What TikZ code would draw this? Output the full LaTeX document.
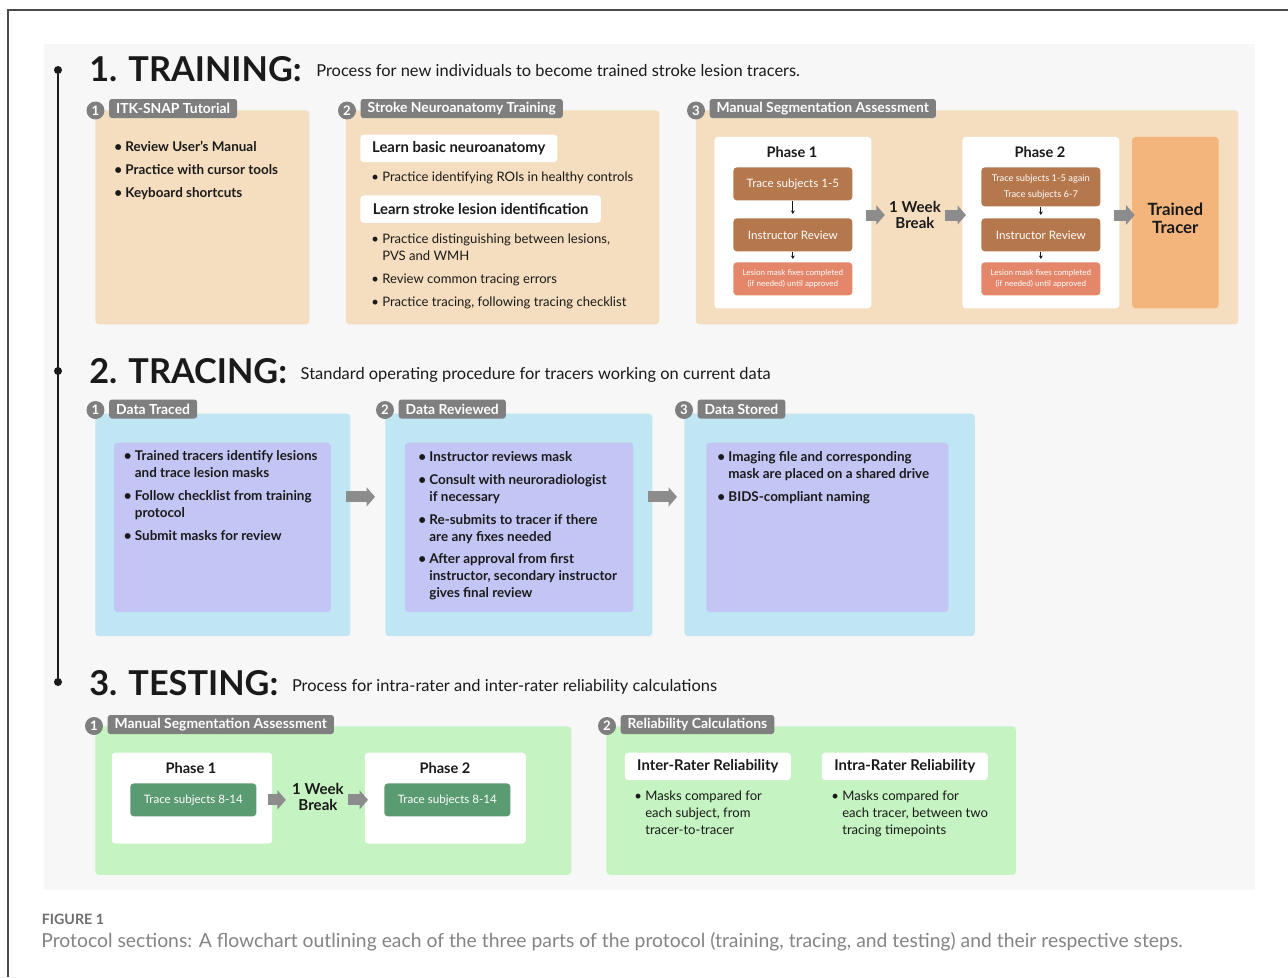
\documentclass[tikz,border=0pt]{standalone}
\usepackage{fontspec}
\setmainfont{Lato}
\usetikzlibrary{arrows.meta,positioning}
\definecolor{panel}{HTML}{F7F7F7}
\definecolor{ink}{HTML}{1A1A1A}
\definecolor{framegray}{HTML}{4A4A4A}
\definecolor{tabgray}{HTML}{7F7F7F}
\definecolor{arrowgray}{HTML}{8C8C8C}
\definecolor{tan}{HTML}{F5DEBF}
\definecolor{tracer}{HTML}{F4B57C}
\definecolor{brown}{HTML}{B5774C}
\definecolor{salmon}{HTML}{E3866A}
\definecolor{skyblue}{HTML}{C0E6F4}
\definecolor{lilac}{HTML}{C3C6F4}
\definecolor{mint}{HTML}{C5F3C1}
\definecolor{pine}{HTML}{5B9B71}
\definecolor{capgray}{HTML}{6E6E6E}
\begin{document}
\begin{tikzpicture}
[
x=0.02cm, y=-0.02cm,
headtext/.style={anchor=base west, inner sep=0, text=ink, font=\fontsize{19.5}{22}\selectfont\bfseries},
subtext/.style={anchor=base west, inner sep=0, text=ink, font=\fontsize{9.35}{11}\selectfont},
numdot/.style={circle, fill=tabgray, text=white, inner sep=0, minimum size=0.36cm, font=\fontsize{7.5}{8}\selectfont\bfseries},
tabbox/.style={fill=tabgray, text=white, anchor=west, rounded corners=1.5pt, inner xsep=0.14cm, inner ysep=0, minimum height=0.38cm, font=\fontsize{7.9}{8}\selectfont\bfseries},
panelbox/.style={anchor=north west, inner sep=0, rounded corners=2pt},
tanbox/.style={panelbox, fill=tan},
phasebox/.style={panelbox, fill=white},
brownbox/.style={panelbox, fill=brown, text=white, align=center, font=\fontsize{6.6}{8}\selectfont, minimum width=2.38cm, minimum height=0.66cm},
fixbox/.style={panelbox, fill=salmon, text=white, align=center, font=\fontsize{4.6}{6.5}\selectfont, minimum width=2.38cm, minimum height=0.66cm},
bluebox/.style={panelbox, fill=skyblue},
lilacbox/.style={panelbox, fill=lilac},
mintbox/.style={panelbox, fill=mint},
pinebox/.style={panelbox, fill=pine, text=white, font=\fontsize{6.6}{8}\selectfont, minimum width=2.52cm, minimum height=0.66cm},
titlebox/.style={panelbox, fill=white, text=ink, font=\fontsize{8.45}{9}\selectfont\bfseries, minimum height=0.55cm},
phasetitle/.style={text=ink, inner sep=0, font=\fontsize{8.3}{9}\selectfont\bfseries},
breaktext/.style={text=ink, inner sep=0, align=center, minimum width=1cm, font=\fontsize{8.6}{9.5}\selectfont\bfseries},
bullets/.style={anchor=base west, inner sep=0, align=left, text=ink, font=\fontsize{7.65}{9.64}\selectfont\bfseries},
plainbullets/.style={anchor=base west, inner sep=0, align=left, text=ink, font=\fontsize{7.45}{9.64}\selectfont},
bigarrow/.style={draw=arrowgray, line width=0.22cm, -{Triangle[length=0.17cm, width=0.38cm]}},
smallarrow/.style={draw=ink, line width=0.5pt, -{Stealth[length=2pt, width=2.2pt]}},
timedot/.style={circle, fill=ink, inner sep=0, minimum size=0.16cm}
]
\useasboundingbox (0,0) rectangle (1288,977);
\fill[white] (0,0) rectangle (1288,977);
\draw[framegray, line width=0.04cm] (8,977) -- (8,10) -- (1288,10);
\fill[panel] (43.5,44) rectangle (1255,889.5);

%Timeline
\node[timedot] at(58,70)  (k1) {};
\node[timedot] at(58,371) (k2) {};
\node[timedot] at(58,682) (k3) {};
\draw[ink, line width=0.04cm] (k1) -- (k3);

%Headings
\node[headtext] at(89,81)    (h1) {1. TRAINING:};
\node[subtext] at([xshift=0.28cm, yshift=0.1cm]h1.base east) (d1) {Process for new individuals to become trained stroke lesion tracers.};
\node[headtext] at(89,383.5) (h2) {2. TRACING:};
\node[subtext] at([xshift=0.26cm, yshift=0.08cm]h2.base east) (d2) {Standard operating procedure for tracers working on current data};
\node[headtext] at(89,695)   (h3) {3. TESTING:};
\node[subtext] at([xshift=0.26cm, yshift=0.08cm]h3.base east) (d3) {Process for intra-rater and inter-rater reliability calculations};

%Training boxes
\node[tanbox, minimum width=4.28cm, minimum height=4.28cm] at(95,110)    (tr1) {};
\node[tanbox, minimum width=6.27cm, minimum height=4.28cm] at(345.5,110) (tr2) {};
\node[tanbox, minimum width=10.85cm, minimum height=4.28cm] at(695.5,110) (tr3) {};

\node[numdot] at(95.5,110.5) (n1) {1};
\node[tabbox] at([xshift=0.08cm, yshift=0.04cm]n1.east) (t1) {ITK-SNAP Tutorial};
\node[numdot] at(347,110.5)  (n2) {2};
\node[tabbox] at([xshift=0.08cm, yshift=0.04cm]n2.east) (t2) {Stroke Neuroanatomy Training};
\node[numdot] at(696,110.5)  (n3) {3};
\node[tabbox] at([xshift=0.08cm, yshift=0.04cm]n3.east) (t3) {Manual Segmentation Assessment};

\node[bullets] at(114,197.3) (l1) {• Review User’s Manual\\[3.4pt]• Practice with cursor tools\\[3.4pt]• Keyboard shortcuts};

\node[titlebox, minimum width=3.94cm] at(360,134.3) (w1) {Learn basic neuroanatomy};
\node[plainbullets] at(371,181) (l2) {• Practice identifying ROIs in healthy controls};
\node[titlebox, minimum width=4.81cm] at(360,195) (w2) {Learn stroke lesion identification};
\node[plainbullets] at(371,306) (l3) {• Practice distinguishing between lesions,\\\hphantom{• }PVS and WMH\\[3.4pt]• Review common tracing errors\\[3.4pt]• Practice tracing, following tracing checklist};

\node[phasebox, minimum width=3.14cm, minimum height=3.43cm] at(714,136.5) (p1) {};
\node[phasetitle] at(792,152.3) (pt1) {Phase 1};
\node[brownbox] at(733,167) (b11) {Trace subjects 1-5};
\node[brownbox] at(733,218) (b12) {Instructor Review};
\node[fixbox]   at(733,262) (b13) {Lesion mask fixes completed\\(if needed) until approved};

\node[breaktext] at(915,215) (wk1) {1 Week\\Break};

\node[phasebox, minimum width=3.14cm, minimum height=3.43cm] at(962,136.5) (p2) {};
\node[phasetitle] at(1040,152.3) (pt2) {Phase 2};
\node[brownbox, minimum height=0.78cm, font=\fontsize{5.3}{8.9}\selectfont] at(981,167) (b21) {Trace subjects 1-5 again\\Trace subjects 6-7};
\node[brownbox] at(981,218) (b22) {Instructor Review};
\node[fixbox]   at(981,262) (b23) {Lesion mask fixes completed\\(if needed) until approved};

\node[panelbox, fill=tracer, minimum width=1.73cm, minimum height=3.43cm] at(1131.7,136.5) (tt) {};
\node[text=ink, inner sep=0, align=center, font=\fontsize{9.6}{10}\selectfont\bfseries] at([yshift=0.09cm]tt.center) (ttx) {Trained\\Tracer};

\draw[smallarrow, shorten >=0.08cm] (b11) -- (b12);
\draw[smallarrow, shorten >=0.06cm] (b12) -- (b13);
\draw[smallarrow, shorten >=0.06cm] (b21) -- (b22);
\draw[smallarrow, shorten >=0.06cm] (b22) -- (b23);
\draw[bigarrow, shorten <=-0.12cm, shorten >=0.08cm] (p1.east |- wk1.west) -- (wk1.west);
\draw[bigarrow, shorten <=0.08cm, shorten >=-0.08cm] (wk1.east) -- (p2.west |- wk1.east);
\draw[bigarrow, shorten <=-0.12cm, shorten >=-0.06cm] (p2.east |- wk1.east) -- (tt.west |- wk1.east);

%Tracing boxes
\node[bluebox, minimum width=5.1cm, minimum height=4.45cm]  at(95,413.3)  (tc1) {};
\node[bluebox, minimum width=5.34cm, minimum height=4.45cm] at(385,413.3)  (tc2) {};
\node[bluebox, minimum width=5.81cm, minimum height=4.45cm] at(684,413.3)  (tc3) {};
\node[lilacbox, minimum width=4.34cm, minimum height=3.39cm] at(113.5,442.3) (ip1) {};
\node[lilacbox, minimum width=4.57cm, minimum height=3.39cm] at(404.5,442.3) (ip2) {};
\node[lilacbox, minimum width=4.84cm, minimum height=3.39cm] at(706,442.3)   (ip3) {};

\node[numdot] at(95.5,410) (n4) {1};
\node[tabbox] at([xshift=0.08cm, yshift=0.02cm]n4.east) (t4) {Data Traced};
\node[numdot] at(385,410)  (n5) {2};
\node[tabbox] at([xshift=0.08cm, yshift=0.02cm]n5.east) (t5) {Data Reviewed};
\node[numdot] at(684,410)  (n6) {3};
\node[tabbox] at([xshift=0.08cm, yshift=0.02cm]n6.east) (t6) {Data Stored};

\node[bullets] at(123.5,540.2) (l4) {• Trained tracers identify lesions\\\hphantom{• }and trace lesion masks\\[3.4pt]• Follow checklist from training\\\hphantom{• }protocol\\[3.4pt]• Submit masks for review};
\node[bullets] at(418,597.8) (l5) {• Instructor reviews mask\\[3.4pt]• Consult with neuroradiologist\\\hphantom{• }if necessary\\[3.4pt]• Re-submits to tracer if there\\\hphantom{• }are any fixes needed\\[3.4pt]• After approval from first\\\hphantom{• }instructor, secondary instructor\\\hphantom{• }gives final review};
\node[bullets] at(717,501.2) (l6) {• Imaging file and corresponding\\\hphantom{• }mask are placed on a shared drive\\[3.4pt]• BIDS-compliant naming};

\draw[bigarrow, shorten <=-0.1cm, shorten >=0.2cm] ([yshift=0.56cm]tc1.east) -- ([yshift=0.56cm]tc2.west);
\draw[bigarrow, shorten <=-0.1cm, shorten >=0.14cm] ([yshift=0.56cm]tc2.east) -- ([yshift=0.56cm]tc3.west);

%Testing boxes
\node[mintbox, minimum width=9.52cm, minimum height=2.97cm] at(95,726)  (ts1) {};
\node[mintbox, minimum width=8.19cm, minimum height=2.97cm] at(606,726) (ts2) {};

\node[numdot] at(94,726)  (n7) {1};
\node[tabbox] at([xshift=0.08cm, yshift=0.03cm]n7.east) (t7) {Manual Segmentation Assessment};
\node[numdot] at(607,726) (n8) {2};
\node[tabbox] at([xshift=0.08cm, yshift=0.03cm]n8.east) (t8) {Reliability Calculations};

\node[phasebox, minimum width=3.21cm, minimum height=1.82cm] at(111.4,752.3) (q1) {};
\node[phasetitle] at(191,768) (qt1) {Phase 1};
\node[pinebox] at(130,783) (g1) {Trace subjects 8-14};
\node[breaktext] at(318,797) (wk2) {1 Week\\Break};
\node[phasebox, minimum width=3.22cm, minimum height=1.82cm] at(364.5,752.3) (q2) {};
\node[phasetitle] at(445,768) (qt2) {Phase 2};
\node[pinebox] at(384,783) (g2) {Trace subjects 8-14};

\draw[bigarrow, shorten <=-0.1cm, shorten >=0.12cm] (g1.east -| q1.east) -- (g1.east -| wk2.west);
\draw[bigarrow, shorten <=0.08cm, shorten >=-0.07cm] (g1.east -| wk2.east) -- (g1.east -| q2.west);

\node[titlebox, minimum width=3.32cm] at(624.5,752.3) (w3) {Inter-Rater Reliability};
\node[titlebox, minimum width=3.32cm] at(821.5,752.3) (w4) {Intra-Rater Reliability};
\node[plainbullets] at(634,834) (l7) {• Masks compared for\\\hphantom{• }each subject, from\\\hphantom{• }tracer-to-tracer};
\node[plainbullets] at(831,834) (l8) {• Masks compared for\\\hphantom{• }each tracer, between two\\\hphantom{• }tracing timepoints};

%Caption
\node[anchor=base west, inner sep=0, text=capgray, font=\fontsize{8.1}{9}\selectfont\bfseries] at(41.5,924.5) (fg) {FIGURE 1};
\node[anchor=base west, inner sep=0, text=capgray!85, font=\fontsize{11}{13}\selectfont] at(41,947.5) (cp) {Protocol sections: A flowchart outlining each of the three parts of the protocol (training, tracing, and testing) and their respective steps.};
\end{tikzpicture}
\end{document}
